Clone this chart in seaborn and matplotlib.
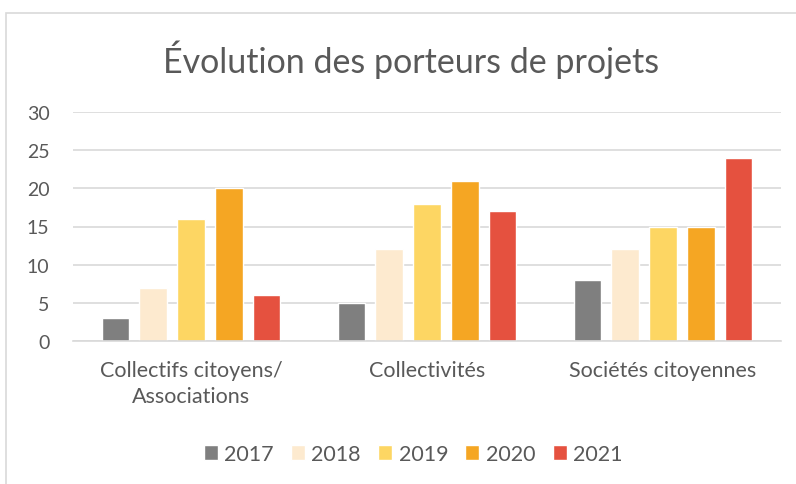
import pandas as pd
import matplotlib.pyplot as plt
import seaborn as sns
from matplotlib.patches import Rectangle

# data
categories = ["Collectifs citoyens/\nAssociations", "Collectivités", "Sociétés citoyennes"]
years = ["2017", "2018", "2019", "2020", "2021"]
v2017 = [3, 5, 8]
v2018 = [7, 12, 12]
v2019 = [16, 18, 15]
v2020 = [20, 21, 15]
v2021 = [6, 17, 24]
colors = ["#7F7F7F", "#FDEACF", "#FDD663", "#F5A623", "#E5513F"]

rows = []
for year, vals in zip(years, [v2017, v2018, v2019, v2020, v2021]):
    for cat, v in zip(categories, vals):
        rows.append({"cat": cat, "year": year, "value": v})
df = pd.DataFrame(rows)

sns.set_style("white")
plt.rcParams["font.family"] = ["Lato", "DejaVu Sans"]
txt = "#595959"

fig = plt.figure(figsize=(7.96, 4.85), dpi=100)
ax = fig.add_axes([73 / 796, 1 - 342 / 485, 708 / 796, 229 / 485])

sns.barplot(data=df, x="cat", y="value", hue="year", palette=colors,
            width=0.80, gap=0.26, ax=ax, saturation=1, legend=True)

ax.set_xlim(-0.5, 2.5)
ax.set_ylim(0, 30)
ax.set_yticks(range(0, 31, 5))
ax.yaxis.grid(True, color="#D9D9D9", linewidth=1.2)
ax.set_axisbelow(True)
for s in ["top", "right", "left"]:
    ax.spines[s].set_visible(False)
ax.spines["bottom"].set_color("#D9D9D9")
ax.spines["bottom"].set_linewidth(1.2)
ax.tick_params(axis="both", length=0, colors=txt)
ax.tick_params(axis="x", labelsize=15.5, pad=14)
ax.tick_params(axis="y", labelsize=14, pad=17)
for t in ax.get_xticklabels():
    t.set_linespacing(1.35)
ax.set_xlabel("")
ax.set_ylabel("")

fig.text(0.516, 1 - 60 / 485, "Évolution des porteurs de projets", ha="center",
         va="center", fontsize=24.5, color=txt)

leg = ax.legend(loc="center", bbox_to_anchor=(0.519, 1 - 455 / 485), bbox_transform=fig.transFigure,
                ncol=5, frameon=False, fontsize=15.5, handlelength=0.65, handleheight=0.65,
                columnspacing=0.8, handletextpad=0.3)
for t in leg.get_texts():
    t.set_color(txt)

# chart border
fig.patches.append(Rectangle((6 / 796, -0.1), 1.2, 1 - 14 / 485 + 0.1, transform=fig.transFigure,
                             fill=False, edgecolor="#D9D9D9", linewidth=1.2))

fig.savefig("out.png", dpi=100)
